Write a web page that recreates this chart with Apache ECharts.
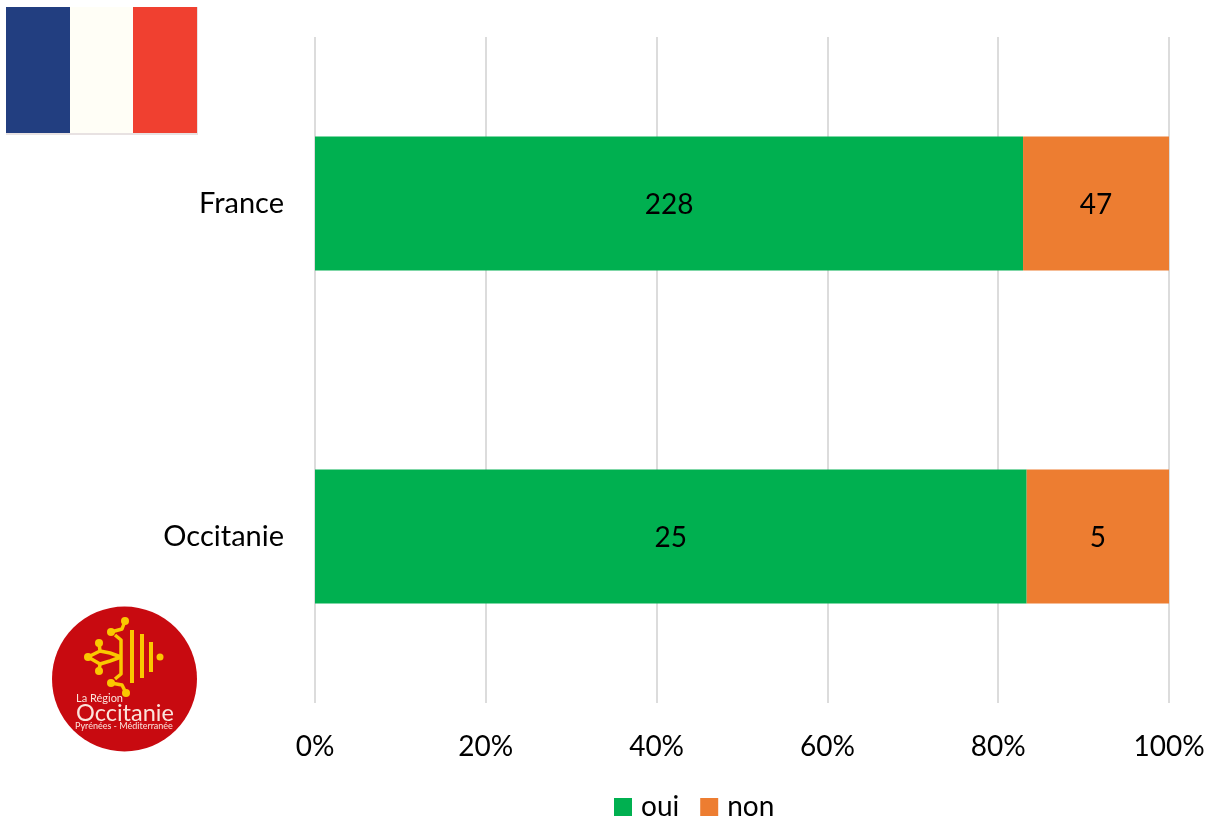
<!DOCTYPE html>
<html><head><meta charset="utf-8">
<style>html,body{margin:0;padding:0;background:#fff}#c{width:1209px;height:819px}</style>
<script src="https://cdn.jsdelivr.net/npm/echarts@6/dist/echarts.min.js"></script>
</head><body><div id="c"></div>
<script>
const categories = ['France', 'Occitanie'];
const oui = [228, 25];
const non = [47, 5];
const xTicks = [0, 20, 40, 60, 80, 100];

const totals = categories.map((_, i) => oui[i] + non[i]);
const pct = (arr) => arr.map((v, i) => ({ value: v / totals[i] * 100, raw: v }));
const FONT = 'Lato';
const gold = '#fac800';
const logoArms = [
  [[125,621],[122,629],[111,632]],
  [[115,635],[121,640],[121,657]],
  [[88,657],[100,651],[99,643]],
  [[100,651],[110,653],[121,657]],
  [[88,657],[100,664],[99,671]],
  [[100,664],[110,661],[121,657]],
  [[126,693],[122,685],[111,683]],
  [[115,679],[121,674],[121,657]]
];
const logoBalls = [[125,621],[111,632],[99,643],[88,657],[99,671],[111,683],[126,693]];
const logoBars = [[132,630,683],[142,634,678],[151,642,672]];
const chart = echarts.init(document.getElementById('c'), null, { renderer: 'canvas' });
const dataLabel = { show: true, position: 'inside', offset: [0, 1], fontSize: 28, color: '#000', fontFamily: FONT, formatter: (p) => p.data.raw };
chart.setOption({
  animation: false,
  backgroundColor: '#fff',
  textStyle: { fontFamily: FONT },
  grid: { left: 315, right: 40, top: 37, bottom: 116 },
  legend: {
    left: 614, top: 793, padding: 0, itemWidth: 18, itemHeight: 18, itemGap: 21,
    icon: 'rect',
    textStyle: { fontSize: 28, color: '#000', fontFamily: FONT, padding: [0, 0, 0, 4] },
    data: ['oui', 'non']
  },
  xAxis: {
    type: 'value', min: 0, max: 100, interval: 20,
    axisLine: { show: false }, axisTick: { show: false },
    splitLine: { show: true, lineStyle: { color: '#dcdcdc', width: 2 } },
    axisLabel: { fontSize: 28, color: '#000', margin: 30, fontFamily: FONT, formatter: (v) => v + '%',
      customValues: xTicks }
  },
  yAxis: {
    type: 'category', inverse: true, data: categories,
    axisLine: { show: false }, axisTick: { show: false },
    axisLabel: { fontSize: 29, color: '#000', margin: 31, fontFamily: FONT, padding: [0, 0, 2, 0] }
  },
  series: [
    { name: 'oui', type: 'bar', stack: 't', barWidth: 134, data: pct(oui),
      itemStyle: { color: '#00b050' }, label: dataLabel },
    { name: 'non', type: 'bar', stack: 't', barWidth: 134, data: pct(non),
      itemStyle: { color: '#ed7d31' }, label: dataLabel }
  ],
  graphic: [
    { type: 'rect', shape: { x: 6, y: 7, width: 192, height: 128 }, style: { fill: '#e8e2e2' }, z: 10 },
    { type: 'rect', shape: { x: 6, y: 7, width: 64, height: 126 }, style: { fill: '#223e80' }, z: 11 },
    { type: 'rect', shape: { x: 70, y: 7, width: 63, height: 126 }, style: { fill: '#fffef6' }, z: 11 },
    { type: 'rect', shape: { x: 133, y: 7, width: 64, height: 126 }, style: { fill: '#f04030' }, z: 11 },
    { type: 'circle', shape: { cx: 124.5, cy: 679, r: 72.5 }, style: { fill: '#c80a10' }, z: 10 },
    ...logoArms.map(p => ({ type: 'polyline', shape: { points: p }, style: { stroke: gold, lineWidth: 3.5, fill: null, lineJoin: 'round' }, z: 11 })),
    ...logoBalls.map(c => ({ type: 'circle', shape: { cx: c[0], cy: c[1], r: 4 }, style: { fill: gold }, z: 11 })),
    ...logoBars.map(l => ({ type: 'line', shape: { x1: l[0], y1: l[1], x2: l[0], y2: l[2] }, style: { stroke: gold, lineWidth: 4 }, z: 11 })),
    { type: 'circle', shape: { cx: 160, cy: 657, r: 3.5 }, style: { fill: gold }, z: 11 },
    { type: 'text', style: { x: 76, y: 693, text: 'La Région', fill: '#fbe4dc', font: '11px Lato' }, z: 11 },
    { type: 'text', style: { x: 76, y: 701, text: 'Occitanie', fill: '#fbe4dc', font: '23.5px Lato' }, z: 11 },
    { type: 'text', style: { x: 75, y: 722, text: 'Pyrénées - Méditerranée', fill: '#fbe4dc', font: '9px Lato' }, z: 11 }
  ]
});
</script></body></html>
